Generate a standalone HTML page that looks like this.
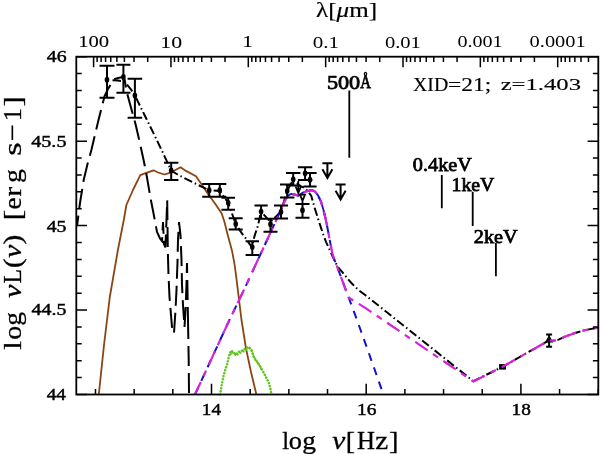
<!DOCTYPE html><html><head><meta charset="utf-8"><style>html,body{margin:0;padding:0;background:#fff;width:600px;height:454px;overflow:hidden}svg{display:block}text{font-family:"Liberation Serif",serif}</style></head><body>
<svg width="600" height="454" viewBox="0 0 600 454">
<rect width="600" height="454" fill="#fff"/>
<rect x="499.1" y="364.1" width="6.9" height="5.5" fill="#000"/>
<path d="M549.1 334.5V346.7M546.1 334.5H552.1M546.1 346.7H552.1M546.6 341.5L549.1 337L551.6 341.5Z" stroke="#000" stroke-width="2" fill="#000"/>
<polyline points="98.8,394.5 104.0,345.0 109.8,297.0 117.9,250.0 123.8,220.0 126.4,205.0 133.0,190.0 140.3,175.2 145.6,173.2 153.5,170.3 158.0,172.5 164.6,174.5 169.6,172.8 174.5,170.5 180.5,167.2 186.0,170.9 196.0,176.3 202.0,185.0 208.0,194.0 215.0,203.5 221.6,213.2 224.5,222.0 226.9,231.7 229.5,241.5 232.2,251.6 234.5,264.0 236.2,276.7 238.8,297.9 241.5,320.0 246.0,348.5 251.0,372.0 256.4,394.5" fill="none" stroke="#8b4513" stroke-width="1.8" stroke-linejoin="round"/>
<polyline points="220.2,394.5 221.5,386.0 223.4,376.6 225.5,369.0 227.3,363.6 229.3,354.5 231.2,350.6 233.0,352.0 235.8,354.5 238.0,352.0 241.0,351.2 244.0,349.5 247.5,347.3 249.0,347.0 251.4,349.9 254.0,357.7 256.0,360.0 258.5,363.6 261.0,368.0 264.4,374.0 267.0,379.0 269.5,384.4 270.5,389.0 271.5,394.5" fill="none" stroke="#62c41e" stroke-width="2.5" stroke-dasharray="0.1 3.0" stroke-linecap="round"/>
<polyline points="229.9,355.8 231.8,351.9 233.6,353.3 236.4,355.8 238.6,353.3 241.6,352.5 244.6,350.8 248.1,348.6 249.6,348.3 252.0,351.2 254.6,359.0 256.6,361.3 259.1,364.9 261.6,369.3" fill="none" stroke="#62c41e" stroke-width="2.2" stroke-dasharray="0.1 3.3" stroke-dashoffset="1.5" stroke-linecap="round"/>
<polyline points="77.0,226.0 80.0,203.0 83.7,180.0 87.5,164.0 91.4,150.0 98.0,122.0 104.6,96.0 108.0,89.0 111.0,84.0 113.5,79.5 118.0,78.0 122.5,77.0 124.6,79.5 126.6,91.5 130.0,104.0 135.5,124.0 139.2,140.0 143.6,160.0 146.2,173.0 150.9,200.0 154.8,220.0 157.0,232.0 160.0,238.5 162.0,241.0 163.0,222.0 164.0,244.0 165.4,247.5 166.5,220.0 167.2,200.3 167.8,250.0 168.5,275.0 169.5,297.0 171.0,315.0 172.5,333.0 174.0,333.0 175.5,310.0 176.5,290.0 177.5,262.0 178.0,240.0 179.0,222.0 180.5,235.0 181.5,260.0 182.0,285.0 183.0,305.0 184.5,327.0 185.5,310.0 186.5,285.0 187.0,263.0 187.5,290.0 188.0,320.0" fill="none" stroke="#000" stroke-width="2" stroke-dasharray="20 7" stroke-dashoffset="9.44"/>
<polyline points="188.0,320.0 188.7,360.0 189.0,394.5" fill="none" stroke="#000" stroke-width="2" stroke-dasharray="20 7" stroke-dashoffset="1"/>
<polyline points="112.5,80.2 118.0,80.5 123.4,81.2 126.4,84.0 130.7,89.0 134.9,95.4 145.0,116.0 156.8,140.0 166.7,160.9 171.2,170.5 177.5,174.5 184.4,178.1 200.9,186.3 209.2,190.2 219.8,191.0 228.2,202.8 235.7,223.9 240.3,231.2 245.6,238.2 251.8,247.1 254.4,236.5 257.9,225.9 261.0,211.5 270.5,222.0 281.0,211.5 287.0,191.0 293.0,180.0 300.0,186.0 305.0,188.0 311.2,195.6 314.5,207.4 319.1,222.0 323.7,235.8 326.2,242.3 330.0,250.5 335.4,262.4 339.0,268.5 343.2,273.2 347.0,278.0 350.9,282.5 358.6,290.2 365.2,295.0 473.3,381.2 502.5,366.8 526.3,353.3 549.1,340.3 553.0,340.7 557.5,340.1 565.0,336.6 575.0,333.0 585.0,330.1 598.3,327.6" fill="none" stroke="#000" stroke-width="2" stroke-dasharray="8.5 3 1.5 3"/>
<polyline points="195.0,394.5 229.4,320.0 243.9,290.0 278.6,215.1 283.9,202.6 287.3,196.6 289.5,194.6 291.6,194.0 295.0,194.6 298.0,195.6 300.0,194.8 302.4,192.8 307.0,191.2 311.6,190.1 314.7,191.2 317.8,195.1 320.9,201.3 323.2,208.9 325.5,218.2 327.3,227.0 330.3,243.1 333.0,256.0 338.5,270.3 342.3,280.5 348.5,297.0 357.0,320.0 363.2,337.3 373.5,366.3 383.4,394.5" fill="none" stroke="#1212c8" stroke-width="2" stroke-dasharray="8 7"/>
<polyline points="287.3,196.6 289.5,194.6 291.6,194.0 295.0,194.6 298.0,195.6 300.0,194.8 302.4,192.8 307.0,191.2 311.6,190.1 314.7,191.2 317.8,195.1 320.9,201.3 323.2,208.9 325.5,218.2 327.3,227.0" fill="none" stroke="#1212c8" stroke-width="1.8"/>
<polyline points="195.0,394.5 229.4,320.0 243.9,290.0 278.6,215.1 283.9,202.6 287.3,196.6 289.5,194.6 291.6,194.0 295.0,194.6 298.0,195.6 300.0,194.8 302.4,192.8 307.0,191.2 311.6,190.1 314.7,191.2 317.8,195.1 320.9,201.3 323.2,208.9 325.5,218.2 327.3,227.0 330.3,243.1 333.0,256.0 338.5,270.3 342.3,280.5 348.4,297.4 366.0,308.4 473.3,381.4 502.5,366.8 526.3,353.3 549.1,340.3 553.0,340.7 557.5,340.1 565.0,336.6 575.0,333.0 585.0,330.1 598.3,327.6" fill="none" stroke="#d622dc" stroke-width="2.2" stroke-dasharray="15 6.5 6 6.5" stroke-dashoffset="1.2"/>
<path d="M107.0 65.7V97.7M99.5 65.7H114.5M99.5 97.7H114.5M123.4 64.8V92.7M116.4 64.8H130.4M116.4 92.7H130.4M134.9 78.7V117.7M127.6 78.7H142.2M127.6 117.7H142.2M171.2 162.8V180.0M164.0 162.8H178.4M164.0 180.0H178.4M209.2 184.0V196.8M202.2 184.0H216.2M202.2 196.8H216.2M219.8 184.0V196.8M213.3 184.0H226.3M213.3 196.8H226.3M228.2 197.8V209.7M221.4 197.8H235.0M221.4 209.7H235.0M235.7 218.3V229.5M228.7 218.3H242.7M228.7 229.5H242.7M252.3 241.2V254.9M245.6 241.2H259.0M245.6 254.9H259.0M261.1 205.5V218.8M254.5 205.5H267.7M254.5 218.8H267.7M270.5 218.8V231.7M263.5 218.8H277.5M263.5 231.7H277.5M281.0 205.5V218.4M274.0 205.5H288.0M274.0 218.4H288.0M287.2 184.4V197.6M280.0 184.4H294.4M280.0 197.6H294.4M293.2 173.1V185.4M286.0 173.1H300.4M286.0 185.4H300.4M305.1 167.2V180.1M297.9 167.2H312.3M297.9 180.1H312.3M310.0 173.1V186.5M303.4 173.1H316.6M303.4 186.5H316.6M302.5 204.0V217.8M295.5 204.0H309.5M295.5 217.8H309.5" stroke="#000" stroke-width="2" fill="none"/>
<g fill="#000"><ellipse cx="107.0" cy="79.7" rx="2.3" ry="2.9"/><ellipse cx="123.4" cy="77.0" rx="2.3" ry="2.9"/><ellipse cx="134.9" cy="95.4" rx="2.3" ry="2.9"/><ellipse cx="171.2" cy="170.5" rx="2.3" ry="2.9"/><ellipse cx="209.2" cy="190.2" rx="2.3" ry="2.9"/><ellipse cx="219.8" cy="190.2" rx="2.3" ry="2.9"/><ellipse cx="228.2" cy="202.8" rx="2.3" ry="2.9"/><ellipse cx="235.7" cy="223.9" rx="2.3" ry="2.9"/><ellipse cx="252.3" cy="247.1" rx="2.3" ry="2.9"/><ellipse cx="261.1" cy="211.6" rx="2.3" ry="2.9"/><ellipse cx="270.5" cy="224.2" rx="2.3" ry="2.9"/><ellipse cx="281.0" cy="211.9" rx="2.3" ry="2.9"/><ellipse cx="287.2" cy="190.8" rx="2.3" ry="2.9"/><ellipse cx="293.2" cy="179.3" rx="2.3" ry="2.9"/><ellipse cx="305.1" cy="173.3" rx="2.3" ry="2.9"/><ellipse cx="310.0" cy="179.7" rx="2.3" ry="2.9"/><ellipse cx="302.5" cy="210.2" rx="2.3" ry="2.9"/></g>
<path d="M298.3 181V193M295.6 186.5L298.3 193L301 186.5M302.5 200.5V204M300 194.6H305L302.5 200.8Z" stroke="#000" stroke-width="1.8" fill="none"/>
<path d="M322.4 163.3H332.4M327.4 163.3V178.1M322.4 169.29999999999998L327.4 178.1L332.4 169.29999999999998M335.6 184.5H345.6M340.6 184.5V199.6M335.6 190.79999999999998L340.6 199.6L345.6 190.79999999999998" stroke="#000" stroke-width="2" fill="none"/>
<path d="M349.3 90.4V157.8M441.8 175.1V208.2M472.7 191.8V225.9M495.9 243.1V276.3" stroke="#000" stroke-width="1.8"/>
<path d="M76.3 394.50h10.7M598.3 394.50h-10.7M76.3 377.61h5.4M598.3 377.61h-5.4M76.3 360.72h5.4M598.3 360.72h-5.4M76.3 343.83h5.4M598.3 343.83h-5.4M76.3 326.94h5.4M598.3 326.94h-5.4M76.3 310.05h10.7M598.3 310.05h-10.7M76.3 293.16h5.4M598.3 293.16h-5.4M76.3 276.27h5.4M598.3 276.27h-5.4M76.3 259.38h5.4M598.3 259.38h-5.4M76.3 242.49h5.4M598.3 242.49h-5.4M76.3 225.60h10.7M598.3 225.60h-10.7M76.3 208.71h5.4M598.3 208.71h-5.4M76.3 191.82h5.4M598.3 191.82h-5.4M76.3 174.93h5.4M598.3 174.93h-5.4M76.3 158.04h5.4M598.3 158.04h-5.4M76.3 141.15h10.7M598.3 141.15h-10.7M76.3 124.26h5.4M598.3 124.26h-5.4M76.3 107.37h5.4M598.3 107.37h-5.4M76.3 90.48h5.4M598.3 90.48h-5.4M76.3 73.59h5.4M598.3 73.59h-5.4M76.3 56.70h10.7M598.3 56.70h-10.7M95.48 394.5v-5.4M134.15 394.5v-5.4M172.82 394.5v-5.4M211.50 394.5v-10.7M250.18 394.5v-5.4M288.85 394.5v-5.4M327.52 394.5v-5.4M366.20 394.5v-10.7M404.88 394.5v-5.4M443.55 394.5v-5.4M482.22 394.5v-5.4M520.90 394.5v-10.7M559.58 394.5v-5.4M598.25 394.5v-5.4M93.60 56.7v10.5M170.95 56.7v10.5M147.67 56.7v5.3M134.04 56.7v5.3M124.38 56.7v5.3M116.88 56.7v5.3M110.76 56.7v5.3M105.58 56.7v5.3M101.10 56.7v5.3M97.14 56.7v5.3M248.30 56.7v10.5M225.02 56.7v5.3M211.39 56.7v5.3M201.73 56.7v5.3M194.23 56.7v5.3M188.11 56.7v5.3M182.93 56.7v5.3M178.45 56.7v5.3M174.49 56.7v5.3M325.65 56.7v10.5M302.37 56.7v5.3M288.74 56.7v5.3M279.08 56.7v5.3M271.58 56.7v5.3M265.46 56.7v5.3M260.28 56.7v5.3M255.80 56.7v5.3M251.84 56.7v5.3M403.00 56.7v10.5M379.72 56.7v5.3M366.09 56.7v5.3M356.43 56.7v5.3M348.93 56.7v5.3M342.81 56.7v5.3M337.63 56.7v5.3M333.15 56.7v5.3M329.19 56.7v5.3M480.35 56.7v10.5M457.07 56.7v5.3M443.44 56.7v5.3M433.78 56.7v5.3M426.28 56.7v5.3M420.16 56.7v5.3M414.98 56.7v5.3M410.50 56.7v5.3M406.54 56.7v5.3M557.70 56.7v10.5M534.42 56.7v5.3M520.79 56.7v5.3M511.13 56.7v5.3M503.63 56.7v5.3M497.51 56.7v5.3M492.33 56.7v5.3M487.85 56.7v5.3M483.89 56.7v5.3M588.48 56.7v5.3M580.98 56.7v5.3M574.86 56.7v5.3M569.68 56.7v5.3M565.20 56.7v5.3M561.24 56.7v5.3" stroke="#000" stroke-width="1.5" fill="none"/>
<rect x="76.3" y="56.7" width="522.0" height="337.8" fill="none" stroke="#000" stroke-width="1.8"/>
<g style="filter:grayscale(1)">
<g transform="translate(46.75,61.98)"><text x="0" y="0" font-size="17.50" font-weight="normal" textLength="19.78" lengthAdjust="spacingAndGlyphs" stroke="#000" stroke-width="0.45">46</text></g>
<g transform="translate(31.28,146.53)"><text x="0" y="0" font-size="17.50" font-weight="normal" textLength="35.15" lengthAdjust="spacingAndGlyphs" stroke="#000" stroke-width="0.45">45.5</text></g>
<g transform="translate(46.65,231.56)"><text x="0" y="0" font-size="17.50" font-weight="normal" textLength="19.75" lengthAdjust="spacingAndGlyphs" stroke="#000" stroke-width="0.45">45</text></g>
<g transform="translate(31.54,315.49)"><text x="0" y="0" font-size="17.50" font-weight="normal" textLength="34.79" lengthAdjust="spacingAndGlyphs" stroke="#000" stroke-width="0.45">44.5</text></g>
<g transform="translate(46.65,400.02)"><text x="0" y="0" font-size="17.50" font-weight="normal" textLength="19.20" lengthAdjust="spacingAndGlyphs" stroke="#000" stroke-width="0.45">44</text></g>
<g transform="translate(201.87,414.98)"><text x="0" y="0" font-size="17.20" font-weight="normal" textLength="19.13" lengthAdjust="spacingAndGlyphs" stroke="#000" stroke-width="0.45">14</text></g>
<g transform="translate(356.93,415.26)"><text x="0" y="0" font-size="17.20" font-weight="normal" textLength="19.45" lengthAdjust="spacingAndGlyphs" stroke="#000" stroke-width="0.45">16</text></g>
<g transform="translate(511.55,415.23)"><text x="0" y="0" font-size="17.20" font-weight="normal" textLength="19.31" lengthAdjust="spacingAndGlyphs" stroke="#000" stroke-width="0.45">18</text></g>
<g transform="translate(78.13,47.49)"><text x="0" y="0" font-size="16.30" font-weight="normal" textLength="30.96" lengthAdjust="spacingAndGlyphs" stroke="#000" stroke-width="0.1">100</text></g>
<g transform="translate(160.27,47.74)"><text x="0" y="0" font-size="16.30" font-weight="normal" textLength="21.75" lengthAdjust="spacingAndGlyphs" stroke="#000" stroke-width="0.1">10</text></g>
<g transform="translate(242.37,47.46)"><text x="0" y="0" font-size="16.30" font-weight="normal" textLength="10.74" lengthAdjust="spacingAndGlyphs" stroke="#000" stroke-width="0.1">1</text></g>
<g transform="translate(312.70,47.65)"><text x="0" y="0" font-size="16.30" font-weight="normal" textLength="26.34" lengthAdjust="spacingAndGlyphs">0.1</text></g>
<g transform="translate(384.90,47.66)"><text x="0" y="0" font-size="16.30" font-weight="normal" textLength="36.02" lengthAdjust="spacingAndGlyphs">0.01</text></g>
<g transform="translate(457.39,47.44)"><text x="0" y="0" font-size="16.30" font-weight="normal" textLength="45.24" lengthAdjust="spacingAndGlyphs">0.001</text></g>
<g transform="translate(529.61,47.12)"><text x="0" y="0" font-size="16.30" font-weight="normal" textLength="56.10" lengthAdjust="spacingAndGlyphs">0.0001</text></g>
<g transform="translate(316.06,17.45)"><text x="0" y="0" font-size="21.00" font-weight="normal" textLength="61.02" lengthAdjust="spacingAndGlyphs" stroke="#000" stroke-width="0.2">λ[<tspan font-style="italic">μ</tspan>m]</text></g>
<g transform="translate(413.05,90.70)"><text x="0" y="0" font-size="19.50" font-weight="normal" textLength="35.12" lengthAdjust="spacingAndGlyphs" stroke="#000" stroke-width="0.15">XID</text></g>
<g transform="translate(448.05,91.41)"><text x="0" y="0" font-size="19.50" font-weight="normal" textLength="43.18" lengthAdjust="spacingAndGlyphs" stroke="#000" stroke-width="0.15">=21;</text></g>
<g transform="translate(500.64,90.20)"><text x="0" y="0" font-size="17.50" font-weight="normal" textLength="80.36" lengthAdjust="spacingAndGlyphs" stroke="#000" stroke-width="0.15">z=1.403</text></g>
<g transform="translate(326.91,88.61)"><text x="0" y="0" font-size="19.50" font-weight="normal" textLength="33.31" lengthAdjust="spacingAndGlyphs" stroke="#000" stroke-width="0.75">500</text></g>
<g transform="translate(360.36,88.35)"><text x="0" y="0" font-size="19.50" font-weight="normal" textLength="10.75" lengthAdjust="spacingAndGlyphs" stroke="#000" stroke-width="0.75">Å</text></g>
<g transform="translate(412.86,170.67)"><text x="0" y="0" font-size="19.50" font-weight="normal" textLength="59.05" lengthAdjust="spacingAndGlyphs" stroke="#000" stroke-width="0.75">0.4keV</text></g>
<g transform="translate(451.48,190.92)"><text x="0" y="0" font-size="19.50" font-weight="normal" textLength="42.95" lengthAdjust="spacingAndGlyphs" stroke="#000" stroke-width="0.75">1keV</text></g>
<g transform="translate(473.80,243.27)"><text x="0" y="0" font-size="19.50" font-weight="normal" textLength="43.95" lengthAdjust="spacingAndGlyphs" stroke="#000" stroke-width="0.75">2keV</text></g>
<g transform="translate(282.16,448.50)"><text x="0" y="0" font-size="25.50" font-weight="normal" textLength="6.88" lengthAdjust="spacingAndGlyphs" stroke="#000" stroke-width="0.3">l</text></g>
<g transform="translate(288.86,448.50)"><text x="0" y="0" font-size="25.50" font-weight="normal" textLength="13.17" lengthAdjust="spacingAndGlyphs" stroke="#000" stroke-width="0.3">o</text></g>
<g transform="translate(302.37,448.50)"><text x="0" y="0" font-size="25.50" font-weight="normal" textLength="13.73" lengthAdjust="spacingAndGlyphs" stroke="#000" stroke-width="0.3">g</text></g>
<g transform="translate(332.22,448.50)"><text x="0" y="0" font-size="25.50" font-weight="normal" textLength="13.09" lengthAdjust="spacingAndGlyphs" stroke="#000" stroke-width="0.3"><tspan font-style="italic">ν</tspan></text></g>
<g transform="translate(345.63,448.50)"><text x="0" y="0" font-size="25.50" font-weight="normal" textLength="9.24" lengthAdjust="spacingAndGlyphs" stroke="#000" stroke-width="0.3">[</text></g>
<g transform="translate(357.08,448.50)"><text x="0" y="0" font-size="25.50" font-weight="normal" textLength="17.92" lengthAdjust="spacingAndGlyphs" stroke="#000" stroke-width="0.3">H</text></g>
<g transform="translate(375.19,448.50)"><text x="0" y="0" font-size="25.50" font-weight="normal" textLength="12.98" lengthAdjust="spacingAndGlyphs" stroke="#000" stroke-width="0.3">z</text></g>
<g transform="translate(389.03,448.50)"><text x="0" y="0" font-size="25.50" font-weight="normal" textLength="9.54" lengthAdjust="spacingAndGlyphs" stroke="#000" stroke-width="0.3">]</text></g>
<g transform="translate(20.90,349.90) rotate(-90)"><text x="0" y="0" font-size="26.00" font-weight="normal" textLength="8.93" lengthAdjust="spacingAndGlyphs" stroke="#000" stroke-width="0.3">l</text></g>
<g transform="translate(20.90,339.68) rotate(-90)"><text x="0" y="0" font-size="26.00" font-weight="normal" textLength="13.91" lengthAdjust="spacingAndGlyphs" stroke="#000" stroke-width="0.3">o</text></g>
<g transform="translate(20.90,325.85) rotate(-90)"><text x="0" y="0" font-size="26.00" font-weight="normal" textLength="13.74" lengthAdjust="spacingAndGlyphs" stroke="#000" stroke-width="0.3">g</text></g>
<g transform="translate(20.90,298.06) rotate(-90)"><text x="0" y="0" font-size="26.00" font-weight="normal" textLength="13.41" lengthAdjust="spacingAndGlyphs" stroke="#000" stroke-width="0.3"><tspan font-style="italic">ν</tspan></text></g>
<g transform="translate(20.90,283.40) rotate(-90)"><text x="0" y="0" font-size="26.00" font-weight="normal" textLength="14.47" lengthAdjust="spacingAndGlyphs" stroke="#000" stroke-width="0.3">L</text></g>
<g transform="translate(20.90,267.99) rotate(-90)"><text x="0" y="0" font-size="26.00" font-weight="normal" textLength="9.58" lengthAdjust="spacingAndGlyphs" stroke="#000" stroke-width="0.3">(</text></g>
<g transform="translate(20.90,258.08) rotate(-90)"><text x="0" y="0" font-size="26.00" font-weight="normal" textLength="13.31" lengthAdjust="spacingAndGlyphs" stroke="#000" stroke-width="0.3"><tspan font-style="italic">ν</tspan></text></g>
<g transform="translate(20.90,244.39) rotate(-90)"><text x="0" y="0" font-size="26.00" font-weight="normal" textLength="9.88" lengthAdjust="spacingAndGlyphs" stroke="#000" stroke-width="0.3">)</text></g>
<g transform="translate(20.90,220.55) rotate(-90)"><text x="0" y="0" font-size="26.00" font-weight="normal" textLength="10.79" lengthAdjust="spacingAndGlyphs" stroke="#000" stroke-width="0.3">[</text></g>
<g transform="translate(20.90,209.56) rotate(-90)"><text x="0" y="0" font-size="26.00" font-weight="normal" textLength="12.12" lengthAdjust="spacingAndGlyphs" stroke="#000" stroke-width="0.3">e</text></g>
<g transform="translate(20.90,196.52) rotate(-90)"><text x="0" y="0" font-size="26.00" font-weight="normal" textLength="9.65" lengthAdjust="spacingAndGlyphs" stroke="#000" stroke-width="0.3">r</text></g>
<g transform="translate(20.90,183.12) rotate(-90)"><text x="0" y="0" font-size="26.00" font-weight="normal" textLength="13.81" lengthAdjust="spacingAndGlyphs" stroke="#000" stroke-width="0.3">g</text></g>
<g transform="translate(20.90,155.71) rotate(-90)"><text x="0" y="0" font-size="26.00" font-weight="normal" textLength="13.48" lengthAdjust="spacingAndGlyphs" stroke="#000" stroke-width="0.3">s</text></g>
<g transform="translate(20.90,141.05) rotate(-90)"><text x="0" y="0" font-size="26.00" font-weight="normal" textLength="17.06" lengthAdjust="spacingAndGlyphs" stroke="#000" stroke-width="0.3">−</text></g>
<g transform="translate(20.90,121.37) rotate(-90)"><text x="0" y="0" font-size="26.00" font-weight="normal" textLength="13.24" lengthAdjust="spacingAndGlyphs" stroke="#000" stroke-width="0.3">1</text></g>
<g transform="translate(20.90,106.49) rotate(-90)"><text x="0" y="0" font-size="26.00" font-weight="normal" textLength="10.18" lengthAdjust="spacingAndGlyphs" stroke="#000" stroke-width="0.3">]</text></g>
</g>
</svg></body></html>
